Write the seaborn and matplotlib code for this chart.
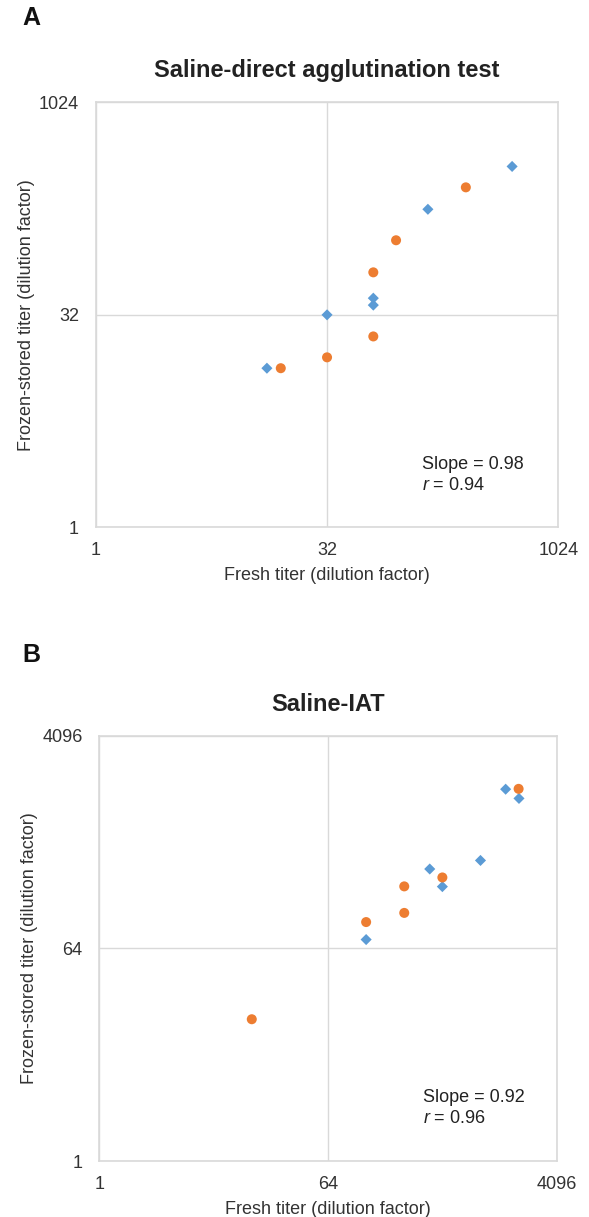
import matplotlib
matplotlib.use("Agg")
import matplotlib.pyplot as plt
import seaborn as sns
import pandas as pd
from matplotlib.ticker import FixedLocator, FixedFormatter, NullLocator

# ---------------- data ----------------
# Panel A: Saline-direct agglutination test
a_blue_fresh = [512, 145, 64, 64, 32, 13]
a_blue_frozen = [360, 179, 42, 37.5, 32, 13.4]
a_orange_fresh = [256, 90, 64, 64, 32, 16]
a_orange_frozen = [256, 108, 64, 22.5, 16, 13.4]
a_ticks = [1, 32, 1024]
a_ticklabels = ["1", "32", "1024"]
a_title = "Saline-direct agglutination test"
a_slope = "Slope = 0.98"
a_r = "$r$ = 0.94"

# Panel B: Saline-IAT
b_blue_fresh = [1618, 2062, 1024, 407, 512, 128]
b_blue_frozen = [1438, 1201, 357, 302, 214, 76]
b_orange_fresh = [2048, 512, 256, 256, 128, 16]
b_orange_frozen = [1448, 256, 215, 128, 107, 16]
b_ticks = [1, 64, 4096]
b_ticklabels = ["1", "64", "4096"]
b_title = "Saline-IAT"
b_slope = "Slope = 0.92"
b_r = "$r$ = 0.96"

groups = ["blue", "orange"]
xlabel = "Fresh titer (dilution factor)"
ylabel = "Frozen-stored titer (dilution factor)"

# ---------------- style ----------------
sns.set_theme(style="white")
plt.rcParams["font.family"] = ["Liberation Sans", "DejaVu Sans"]
plt.rcParams["mathtext.fontset"] = "custom"
plt.rcParams["mathtext.rm"] = "Liberation Sans"
plt.rcParams["mathtext.it"] = "Liberation Sans:italic"

TXT = "#333333"
GRID = "#d9d9d9"
palette = {"blue": "#5B9BD5", "orange": "#ED7D31"}
markers = {"blue": "D", "orange": "o"}
sizes = {"blue": 32, "orange": 52}

fig = plt.figure(figsize=(5.89, 12.17), dpi=100)
axA = fig.add_axes([0.1625, 0.5667, 0.7855, 0.3492])
axB = fig.add_axes([0.1686, 0.0460, 0.7766, 0.3495])


def make_df(bf, by, of, oy):
    return pd.DataFrame({
        "fresh": list(bf) + list(of),
        "frozen": list(by) + list(oy),
        "group": [groups[0]] * len(bf) + [groups[1]] * len(of),
    })


def draw(ax, df, ticks, ticklabels, title, slope, r, txy):
    for g in groups:
        sub = df[df["group"] == g]
        sns.scatterplot(data=sub, x="fresh", y="frozen", ax=ax,
                        color=palette[g], marker=markers[g], s=sizes[g],
                        edgecolor="none", linewidth=0, legend=False, zorder=3)
    ax.set_xscale("log", base=2)
    ax.set_yscale("log", base=2)
    ax.set_xlim(ticks[0], ticks[-1])
    ax.set_ylim(ticks[0], ticks[-1])
    for axis in (ax.xaxis, ax.yaxis):
        axis.set_major_locator(FixedLocator(ticks))
        axis.set_major_formatter(FixedFormatter(ticklabels))
        axis.set_minor_locator(NullLocator())
    ax.tick_params(length=0, labelsize=13, colors=TXT)
    ax.tick_params(axis="y", pad=12)
    ax.tick_params(axis="x", pad=10.5)
    ax.grid(True, color=GRID, linewidth=1)
    for sp in ax.spines.values():
        sp.set_color(GRID)
        sp.set_linewidth(1.2)
    ax.set_xlabel(xlabel, fontsize=13, color=TXT, labelpad=6)
    ax.set_ylabel(ylabel, fontsize=13, color=TXT, labelpad=3)
    ax.set_title(title, fontsize=17, fontweight="bold", color="#222222", pad=18)
    ax.text(txy[0], txy[1], slope, transform=ax.transAxes, fontsize=13, color="#222222")
    ax.text(txy[0], txy[2], r, transform=ax.transAxes, fontsize=13, color="#222222")


draw(axA, make_df(a_blue_fresh, a_blue_frozen, a_orange_fresh, a_orange_frozen),
     a_ticks, a_ticklabels, a_title, a_slope, a_r, (0.705, 0.137, 0.087))
draw(axB, make_df(b_blue_fresh, b_blue_frozen, b_orange_fresh, b_orange_frozen),
     b_ticks, b_ticklabels, b_title, b_slope, b_r, (0.708, 0.139, 0.089))

fig.text(22 / 589, 1 - 18 / 1217, "A", fontsize=18, fontweight="bold", color="#111111",
         ha="left", va="center")
fig.text(22 / 589, 1 - 655 / 1217, "B", fontsize=18, fontweight="bold", color="#111111",
         ha="left", va="center")

fig.savefig("out.png", dpi=100)
